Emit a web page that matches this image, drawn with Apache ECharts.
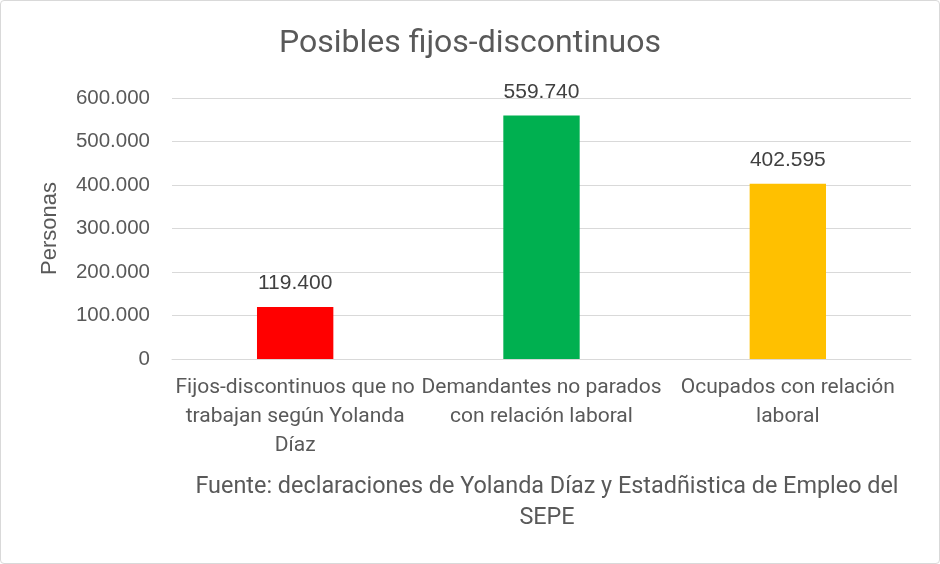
<!DOCTYPE html>
<html><head><meta charset="utf-8">
<script src="https://cdn.jsdelivr.net/npm/echarts@6/dist/echarts.min.js"></script>
<style>
html,body{margin:0;padding:0;background:#fff;}
#c{position:absolute;left:0;top:0;width:938px;height:562px;border:1px solid #d9d9d9;border-radius:4px;}
</style></head><body>
<div id="c"></div>
<script>
const titleText = "Posibles fijos-discontinuos";
const yAxisName = "Personas";
const categories = [
  "Fijos-discontinuos que no\ntrabajan según Yolanda\nDíaz",
  "Demandantes no parados\ncon relación laboral",
  "Ocupados con relación\nlaboral"
];
const values = [119400, 559740, 402595];
const barColors = ["#ff0000", "#00b050", "#ffc000"];
const footerText = "Fuente: declaraciones de Yolanda Díaz y Estadñistica de Empleo del\nSEPE";

const fmt = v => String(Math.round(v)).replace(/\B(?=(\d{3})+(?!\d))/g, ".");
const narrow = "'Liberation Sans Narrow', 'Roboto', sans-serif";
const sans = "'Liberation Sans', Arial, sans-serif";

const chart = echarts.init(document.getElementById('c'), null, {renderer:'canvas'});
chart.setOption({
  animation:false,
  title:[
    {text:titleText,left:'center',top:22,textStyle:{fontFamily:narrow,fontSize:32,fontWeight:'normal',color:'#595959'}},
    {text:footerText,left:541,textAlign:'center',top:466,textStyle:{fontFamily:narrow,fontSize:23.4,fontWeight:'normal',color:'#595959',lineHeight:31,align:'center'}}
  ],
  grid:{left:171,right:28,top:97,height:261,containLabel:false},
  xAxis:{type:'category',data:categories,
    axisLine:{lineStyle:{color:'#d9d9d9',width:1}},axisTick:{show:false},
    axisLabel:{fontFamily:narrow,fontSize:21,color:'#595959',lineHeight:29,margin:14,interval:0}},
  yAxis:{type:'value',min:0,max:600000,interval:100000,
    name:yAxisName,nameLocation:'middle',nameGap:111,
    nameTextStyle:{fontFamily:sans,fontSize:22,color:'#595959'},
    axisLabel:{formatter:fmt,fontFamily:sans,fontSize:20.5,color:'#595959',margin:22},
    splitLine:{lineStyle:{color:'#d9d9d9',width:1}},axisLine:{show:false},axisTick:{show:false}},
  series:[{type:'bar',data:values.map((v,i)=>({value:v,itemStyle:{color:barColors[i]}})),
    barWidth:'31%',
    label:{show:true,position:'top',distance:13,formatter:p=>fmt(p.value),fontFamily:sans,fontSize:21,color:'#404040'}}]
});
</script></body></html>
